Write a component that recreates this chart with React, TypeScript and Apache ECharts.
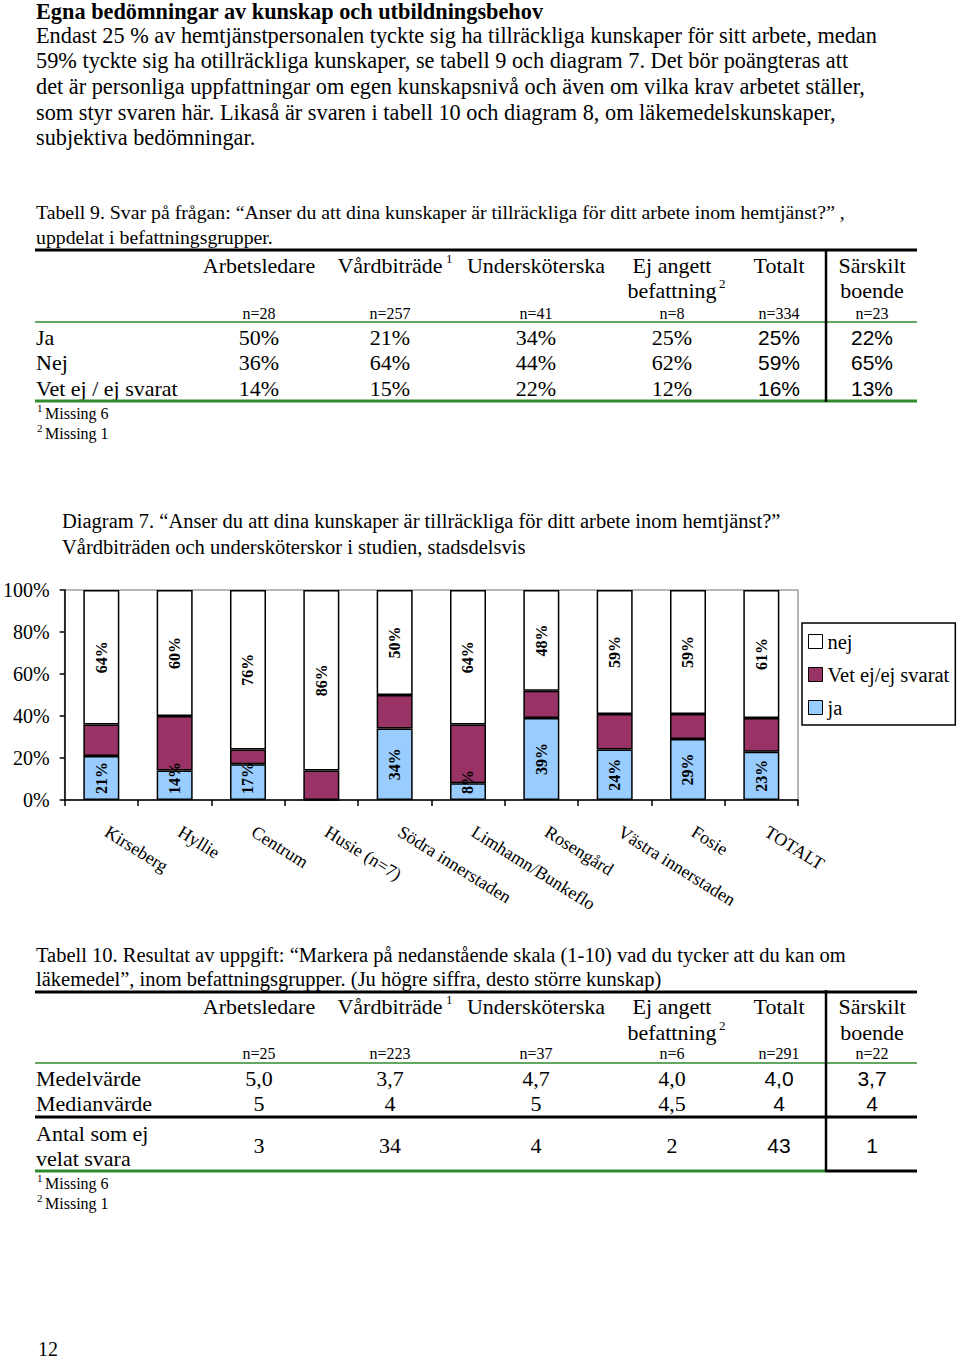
import React, { useEffect, useRef } from "react";
import * as echarts from "echarts";

// ---------- Chart data (Diagram 7) ----------
const categories = [
  "Kirseberg",
  "Hyllie",
  "Centrum",
  "Husie (n=7)",
  "Södra innerstaden",
  "Limhamn/Bunkeflo",
  "Rosengård",
  "Västra innerstaden",
  "Fosie",
  "TOTALT",
];
const jaValues = [21, 14, 17, 0, 34, 8, 39, 24, 29, 23];
const vetEjValues = [15, 26, 7, 14, 16, 28, 13, 17, 12, 16];
const nejValues = [64, 60, 76, 86, 50, 64, 48, 59, 59, 61];
const seriesNames = ["ja", "Vet ej/ej svarat", "nej"];
const legendOrder = ["nej", "Vet ej/ej svarat", "ja"];

// ---------- Page texts ----------
const headingText = "Egna bedömningar av kunskap och utbildningsbehov";
const bodyLines = [
  "Endast 25 % av hemtjänstpersonalen tyckte sig ha tillräckliga kunskaper för sitt arbete, medan",
  "59% tyckte sig ha otillräckliga kunskaper, se tabell 9 och diagram 7. Det bör poängteras att",
  "det är personliga uppfattningar om egen kunskapsnivå och även om vilka krav arbetet ställer,",
  "som styr svaren här. Likaså är svaren i tabell 10 och diagram 8, om läkemedelskunskaper,",
  "subjektiva bedömningar.",
];
const table9Caption = [
  "Tabell 9. Svar på frågan: “Anser du att dina kunskaper är tillräckliga för ditt arbete inom hemtjänst?” ,",
  "uppdelat i befattningsgrupper.",
];
const diagramCaption = [
  "Diagram 7. “Anser du att dina kunskaper är tillräckliga för ditt arbete inom hemtjänst?”",
  "Vårdbiträden och undersköterskor i studien, stadsdelsvis",
];
const table10Caption = [
  "Tabell 10. Resultat av uppgift: “Markera på nedanstående skala (1-10) vad du tycker att du kan om",
  "läkemedel”, inom befattningsgrupper. (Ju högre siffra, desto större kunskap)",
];
const pageNumber = "12";

// ---------- Table data ----------
const colHeadLine1 = ["Arbetsledare", "Vårdbiträde", "Undersköterska", "Ej angett", "Totalt", "Särskilt"];
const colHeadLine2 = ["", "", "", "befattning", "", "boende"];
const colHeadSup = ["", "1", "", "2", "", ""];
const footnotes = [
  ["1", "Missing 6"],
  ["2", "Missing 1"],
];

const t9N = ["n=28", "n=257", "n=41", "n=8", "n=334", "n=23"];
const t9RowLabels = ["Ja", "Nej", "Vet ej / ej svarat"];
const t9Ja = ["50%", "21%", "34%", "25%", "25%", "22%"];
const t9Nej = ["36%", "64%", "44%", "62%", "59%", "65%"];
const t9VetEj = ["14%", "15%", "22%", "12%", "16%", "13%"];

const t10N = ["n=25", "n=223", "n=37", "n=6", "n=291", "n=22"];
const t10RowLabels = ["Medelvärde", "Medianvärde", "Antal som ej", "velat svara"];
const t10Medel = ["5,0", "3,7", "4,7", "4,0", "4,0", "3,7"];
const t10Median = ["5", "4", "5", "4,5", "4", "4"];
const t10Antal = ["3", "34", "4", "2", "43", "1"];

// ---------- Layout constants ----------
const SERIF = "'Liberation Serif', 'Times New Roman', serif";
const SANS = "'Liberation Sans', Arial, sans-serif";
const GREEN = "#2e8b2e";
const colX = [259, 390, 536, 672, 779, 872];
const supX = [0, 446, 0, 719, 0, 0];
const sansCols = [false, false, false, false, true, true];
const TL = 35;
const TR = 917;
const VX = 826;
const GRID_TOP = 590;
const GRID_H = 210;

function txt(text: string, x: number, y: number, size: number, opts: any = {}) {
  return {
    type: "text",
    x,
    y,
    silent: true,
    style: {
      text,
      fontSize: size,
      fontFamily: opts.family || SERIF,
      fontWeight: opts.weight || "normal",
      fill: "#000",
      align: opts.align || "left",
      verticalAlign: "middle",
    },
  };
}
function ln(x1: number, y1: number, x2: number, y2: number, color: string, w: number) {
  return {
    type: "line",
    silent: true,
    shape: { x1, y1, x2, y2 },
    style: { stroke: color, lineWidth: w },
  };
}

function headerBlock(y1: number, y2: number, yN: number, nLabels: string[]) {
  const els: any[] = [];
  colHeadLine1.forEach((h, i) => {
    els.push(txt(h, colX[i], y1, 22, { align: "center" }));
    if (colHeadLine2[i]) els.push(txt(colHeadLine2[i], colX[i], y2, 22, { align: "center" }));
    if (colHeadSup[i]) {
      const sy = colHeadLine2[i] ? y2 - 7 : y1 - 7;
      els.push(txt(colHeadSup[i], supX[i], sy, 13));
    }
    els.push(txt(nLabels[i], colX[i], yN, 16, { align: "center" }));
  });
  return els;
}
function valueRow(values: string[], y: number) {
  return values.map((v, i) =>
    txt(v, colX[i], y, sansCols[i] ? 21 : 22, { align: "center", family: sansCols[i] ? SANS : SERIF })
  );
}
function footnoteBlock(y: number) {
  const els: any[] = [];
  footnotes.forEach((f, k) => {
    els.push(txt(f[0], 37, y + k * 20 - 5, 11));
    els.push(txt(f[1], 45, y + k * 20, 16));
  });
  return els;
}

function buildGraphics() {
  const g: any[] = [];
  // heading + body
  g.push(txt(headingText, 36, 11, 22.3, { weight: "bold" }));
  bodyLines.forEach((l, i) => g.push(txt(l, 36, 35 + i * 25.7, 22.3)));

  // Table 9
  table9Caption.forEach((l, i) => g.push(txt(l, 36, 212 + i * 25, 19.8)));
  g.push(ln(TL, 250, TR, 250, "#000", 3));
  g.push(...headerBlock(265, 290, 313, t9N));
  g.push(ln(TL, 322, TR, 322, GREEN, 1.5));
  [t9Ja, t9Nej, t9VetEj].forEach((row, r) => {
    const y = 337 + r * 25.7;
    g.push(txt(t9RowLabels[r], 36, y, 22));
    g.push(...valueRow(row, y));
  });
  g.push(ln(TL, 401, TR, 401, GREEN, 3));
  g.push(ln(VX, 249, VX, 402, "#000", 2.5));
  g.push(...footnoteBlock(413));

  // Diagram caption
  diagramCaption.forEach((l, i) => g.push(txt(l, 62, 521 + i * 26, 20.5)));

  // Table 10
  table10Caption.forEach((l, i) => g.push(txt(l, 36, 955 + i * 24, 20.5)));
  g.push(ln(TL, 992, TR, 992, "#000", 3));
  g.push(...headerBlock(1006, 1032, 1053, t10N));
  g.push(ln(TL, 1063, TR, 1063, GREEN, 1.5));
  g.push(txt(t10RowLabels[0], 36, 1078, 22));
  g.push(...valueRow(t10Medel, 1078));
  g.push(txt(t10RowLabels[1], 36, 1103, 22));
  g.push(...valueRow(t10Median, 1103));
  g.push(ln(TL, 1117, TR, 1117, "#000", 3));
  g.push(txt(t10RowLabels[2], 36, 1133, 22));
  g.push(txt(t10RowLabels[3], 36, 1158, 22));
  g.push(...valueRow(t10Antal, 1145));
  g.push(ln(TL, 1171, VX, 1171, GREEN, 3));
  g.push(ln(VX, 1171, TR, 1171, "#000", 3));
  g.push(ln(VX, 990, VX, 1172, "#000", 2.5));
  g.push(...footnoteBlock(1183));

  g.push(txt(pageNumber, 38, 1349, 20));
  return g;
}

const barLabel = {
  show: true,
  position: "inside",
  rotate: 90,
  fontFamily: SERIF,
  fontWeight: "bold",
  fontSize: 16,
  color: "#000",
  formatter: (p: any) => (p.value > 0 ? p.value + "%" : ""),
};

export default function App() {
  const ref = useRef<HTMLDivElement>(null);
  useEffect(() => {
    if (!ref.current) return;
    const chart = echarts.init(ref.current, undefined, { renderer: "svg" });
    const axisBottom = GRID_TOP + GRID_H;
    const option: any = {
      animation: false,
      backgroundColor: "#fff",
      textStyle: { fontFamily: SERIF, color: "#000" },
      graphic: buildGraphics(),
      grid: {
        show: true,
        left: 63,
        top: GRID_TOP,
        width: 735,
        height: GRID_H,
        borderColor: "#a0a0a0",
        borderWidth: 1.5,
        backgroundColor: "transparent",
        containLabel: false,
      },
      legend: {
        show: true,
        orient: "vertical",
        left: 802,
        top: 623,
        data: legendOrder,
        icon: "rect",
        itemWidth: 14,
        itemHeight: 14,
        itemGap: 12,
        padding: [8, 6, 7, 6],
        borderColor: "#000",
        borderWidth: 1.5,
        backgroundColor: "#fff",
        selectedMode: false,
        itemStyle: { borderColor: "#000", borderWidth: 1 },
        textStyle: { fontFamily: SERIF, fontSize: 20.5, color: "#000", lineHeight: 20 },
      },
      xAxis: {
        type: "category",
        data: categories,
        boundaryGap: true,
        axisLine: { show: true, lineStyle: { color: "#000", width: 1.5 } },
        axisTick: { show: true, length: 6, interval: 0, alignWithLabel: false, lineStyle: { color: "#000", width: 1.5 } },
        axisLabel: {
          interval: 0,
          rotate: -32,
          margin: 27,
          padding: [0, 0, 0, 6],
          fontFamily: SERIF,
          fontSize: 18,
          color: "#000",
        },
        splitLine: { show: false },
      },
      yAxis: {
        type: "value",
        min: 0,
        max: 100,
        interval: 20,
        axisLine: { show: true, lineStyle: { color: "#000", width: 1.5 } },
        axisTick: { show: true, length: 5, lineStyle: { color: "#000", width: 1.5 } },
        axisLabel: {
          formatter: "{value}%",
          margin: 15,
          fontFamily: SERIF,
          fontSize: 20,
          color: "#000",
        },
        splitLine: { show: false },
      },
      series: [
        {
          name: seriesNames[0],
          type: "bar",
          stack: "s",
          data: jaValues,
          barWidth: 36,
          itemStyle: { color: "#99ccff", borderColor: "#000", borderWidth: 1.5 },
          label: barLabel,
          labelLayout: (p: any) => {
            const r = p.labelRect;
            const maxBottom = axisBottom - 6;
            if (r && r.height > 0 && r.y + r.height > maxBottom) {
              return {
                x: r.x + r.width / 2,
                y: maxBottom - r.height / 2,
                align: "center",
                verticalAlign: "middle",
                rotate: 90,
              };
            }
            return {};
          },
        },
        {
          name: seriesNames[1],
          type: "bar",
          stack: "s",
          data: vetEjValues,
          barWidth: 36,
          itemStyle: { color: "#993366", borderColor: "#000", borderWidth: 1.5 },
          label: { show: false },
        },
        {
          name: seriesNames[2],
          type: "bar",
          stack: "s",
          data: nejValues,
          barWidth: 36,
          itemStyle: { color: "#ffffff", borderColor: "#000", borderWidth: 1.5 },
          label: barLabel,
        },
      ],
    };
    chart.setOption(option);
    return () => chart.dispose();
  }, []);
  return (
    <div
      ref={ref}
      style={{ position: "absolute", left: 0, top: 0, width: 960, height: 1360, background: "#fff" }}
    />
  );
}
